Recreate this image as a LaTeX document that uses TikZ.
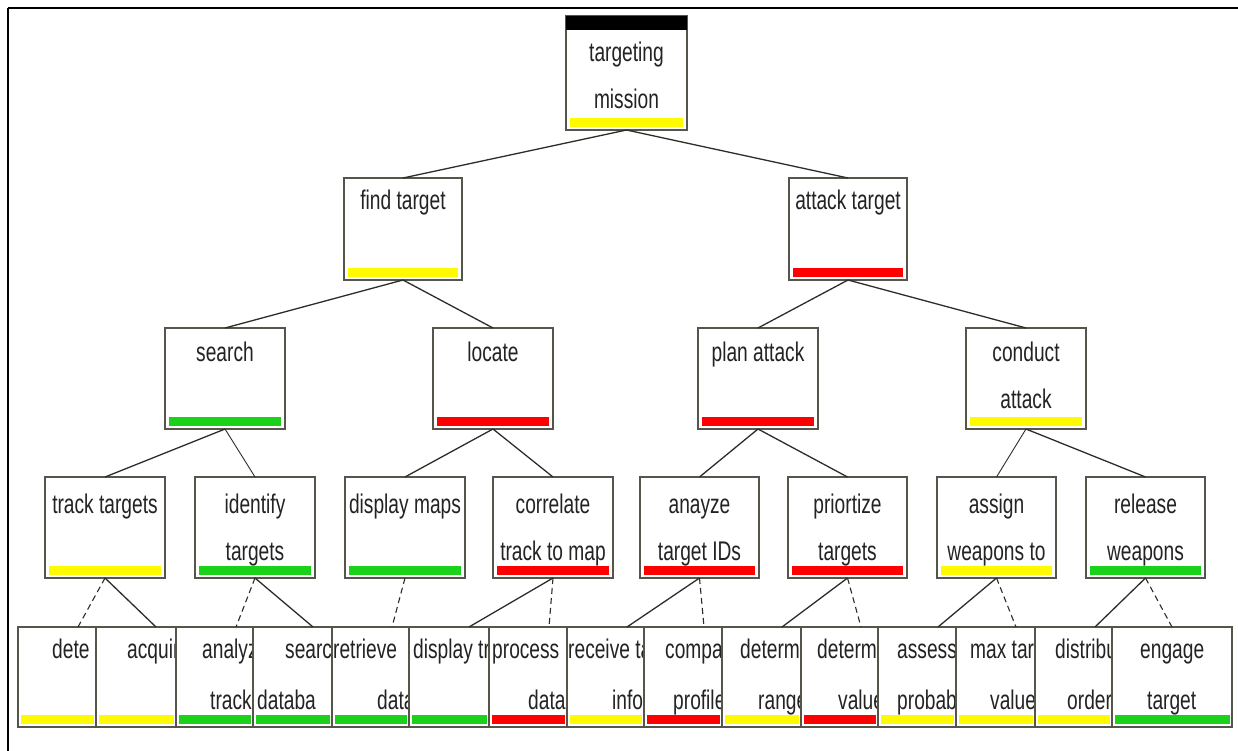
\documentclass[tikz,border=0pt]{standalone}
\usepackage{fontspec}
\newfontfamily\nf[FakeStretch=0.71]{Liberation Sans}
\usetikzlibrary{calc}
\definecolor{bx}{RGB}{85,85,75}
\definecolor{ln}{RGB}{45,45,40}
\definecolor{yl}{RGB}{255,250,0}
\definecolor{rd}{RGB}{255,0,0}
\definecolor{gn}{RGB}{25,210,25}
\definecolor{tx}{RGB}{35,35,35}
% upper boxes: name, left, top, width, height, bar colour, line1, line2, baseline offset
\newcommand\tb[9]{%
  \node[box, minimum width=#4pt, minimum height=#5pt] (#1) at (#2,#3) {};
  \fill[#6] ($(#1.south west)+(4,-3)$) rectangle ($(#1.south east)+(-4,-12)$);
  \node[txt] (#1-a) at ($(#1.north)+(0,#9)$) {#7};
  \if\relax\detokenize{#8}\relax\else
    \node[txt] (#1-b) at ($(#1.north)+(0,#9+47)$) {#8};
  \fi}
% bottom row: name, left, right, bar colour, line1, x1, line2, x2
\newcommand\tc[8]{%
  \node[box, minimum width=#3pt-#2pt, minimum height=100pt] (#1) at (#2,627) {};
  \fill[#4] ($(#1.south west)+(3,-3)$) rectangle ($(#1.south east)+(-2,-12)$);
  \begin{scope}
    \clip ($(#1.north west)+(0.7,0.7)$) rectangle ($(#1.south east)+(-0.7,-0.7)$);
    \node[txt, anchor=base west] (#1-a) at (#6,658) {#5};
    \if\relax\detokenize{#7}\relax\else
      \node[txt, anchor=base west] (#1-b) at (#8,709) {#7};
    \fi
  \end{scope}
  \coordinate (#1-in) at ($(#1.north west)+(60,0)$);}
\begin{document}
\begin{tikzpicture}[x=1pt,y=-1pt,
  box/.style={draw=bx, line width=1.4pt, fill=white, rectangle, inner sep=0pt, outer sep=0pt, anchor=north west},
  txt/.style={font=\nf\fontsize{27}{27}\selectfont, text=tx, inner sep=0pt, anchor=base},
  con/.style={draw=ln, line width=1.3pt},
  tcon/.style={draw=ln, line width=0.9pt},
  dcon/.style={draw=ln, line width=1.1pt, dash pattern=on 6pt off 4pt},
]
\useasboundingbox (0,0) rectangle (1238,751);
\fill[white] (0,0) rectangle (1238,751);

% level 1
\tb{top}{566}{16}{121}{114}{yl}{targeting}{mission}{46}
\fill[black] (top.north west) rectangle ($(top.north east)+(0,14)$);
% level 2
\tb{find}{344}{178}{118}{102}{yl}{find target}{}{32}
\tb{attack}{789}{178}{118}{102}{rd}{attack target}{}{32}
% level 3
\tb{search}{165}{328}{120}{101}{gn}{search}{}{33}
\tb{locate}{433}{328}{120}{101}{rd}{locate}{}{33}
\tb{plan}{698}{328}{120}{101}{rd}{plan attack}{}{33}
\tb{conduct}{966}{328}{120}{101}{yl}{conduct}{attack}{33}
% level 4
\tb{track}{45}{477}{120}{101}{yl}{track targets}{}{36}
\tb{ident}{195}{477}{120}{101}{gn}{identify}{targets}{36}
\tb{disp}{345}{477}{120}{101}{gn}{display maps}{}{36}
\tb{corr}{493}{477}{120}{101}{rd}{correlate}{track to map}{36}
\tb{anal}{640}{477}{119}{101}{rd}{anayze}{target IDs}{36}
\tb{prio}{788}{477}{119}{101}{rd}{priortize}{targets}{36}
\tb{assign}{937}{477}{119}{101}{yl}{assign}{weapons to}{36}
\tb{rel}{1086}{477}{119}{101}{gn}{release}{weapons}{36}
% level 5
\tc{b1}{18}{96}{yl}{dete}{52}{}{0}
\tc{b2}{96}{176}{yl}{acquir}{127}{}{0}
\tc{b3}{176}{253}{gn}{analyz}{202}{track}{210}
\tc{b4}{253}{332}{gn}{searc}{285}{databa}{257}
\tc{b5}{332}{409}{gn}{retrieve}{333}{data}{377}
\tc{b6}{409}{489}{gn}{display tr}{413}{}{0}
\tc{b7}{489}{567}{rd}{process}{492}{data}{528}
\tc{b8}{567}{644}{yl}{receive ta}{568}{info}{612}
\tc{b9}{644}{722}{rd}{compa}{665}{profile}{673}
\tc{b10}{722}{801}{yl}{determ}{740}{range}{758}
\tc{b11}{801}{878}{rd}{determ}{817}{value}{838}
\tc{b12}{878}{956}{yl}{assess}{897}{probab}{897}
\tc{b13}{956}{1035}{yl}{max tar}{970}{value}{990}
\tc{b14}{1035}{1112}{yl}{distribu}{1055}{order}{1067}
\tc{b15}{1112}{1232}{gn}{engage}{1140}{target}{1147}

% connectors
\draw[con] (top.south) -- (find.north);
\draw[con] (top.south) -- (attack.north);
\draw[con] (find.south) -- (search.north);
\draw[con] (find.south) -- (locate.north);
\draw[con] (attack.south) -- (plan.north);
\draw[con] (attack.south) -- (conduct.north);
\draw[con] (search.south) -- (track.north);
\draw[tcon] (search.south) -- (ident.north);
\draw[con] (locate.south) -- (disp.north);
\draw[con] (locate.south) -- (corr.north);
\draw[con] (plan.south) -- (anal.north);
\draw[con] (plan.south) -- (prio.north);
\draw[tcon] (conduct.south) -- (assign.north);
\draw[con] (conduct.south) -- (rel.north);
\draw[dcon] (track.south) -- (b1-in);
\draw[con] (track.south) -- (b2-in);
\draw[dcon] (ident.south) -- (b3-in);
\draw[con] (ident.south) -- (b4-in);
\draw[dcon] (disp.south) -- (b5-in);
\draw[con] (corr.south) -- (b6-in);
\draw[dcon] (corr.south) -- (b7-in);
\draw[con] (anal.south) -- (b8-in);
\draw[dcon] (anal.south) -- (b9-in);
\draw[con] (prio.south) -- (b10-in);
\draw[dcon] (prio.south) -- (b11-in);
\draw[con] (assign.south) -- (b12-in);
\draw[dcon] (assign.south) -- (b13-in);
\draw[con] (rel.south) -- (b14-in);
\draw[dcon] (rel.south) -- (b15-in);

% frame
\draw[line width=2.5pt, black] (8,8) -- (1238,8);
\draw[line width=2pt, black] (8,8) -- (8,751);
\end{tikzpicture}
\end{document}
